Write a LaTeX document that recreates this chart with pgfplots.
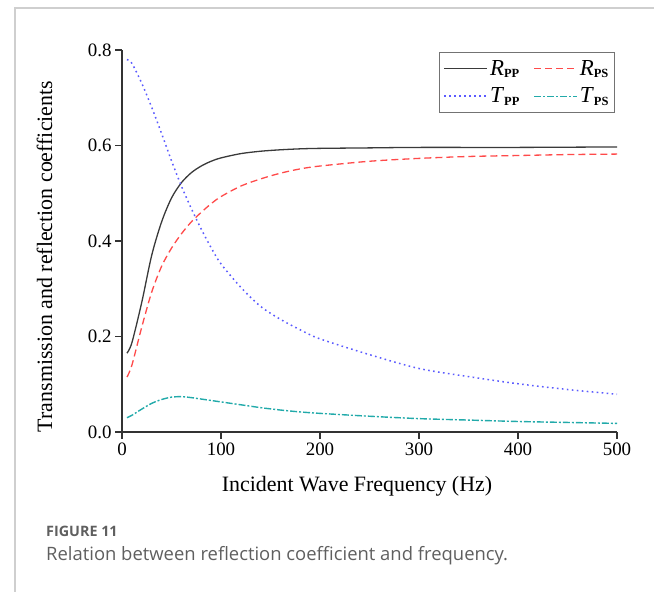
\documentclass[border=0pt]{standalone}
\usepackage{fontspec}
\setmainfont{Liberation Serif}
\newfontfamily\capfont{Open Sans}
\usepackage{pgfplots}
\pgfplotsset{compat=1.18}
\definecolor{cRpp}{HTML}{3A3A3A}
\definecolor{cRps}{HTML}{FF4A4A}
\definecolor{cTpp}{HTML}{5A5AFF}
\definecolor{cTps}{HTML}{22AAAA}
\definecolor{framegray}{HTML}{CFCFCF}
\definecolor{capgray}{HTML}{5F5F5F}
\newcommand{\sub}[1]{\raisebox{-0.2ex}{\fontsize{12.5}{12.5}\selectfont\bfseries #1}}
\begin{document}
\begin{tikzpicture}[x=1bp,y=1bp]
\useasboundingbox (0,0) rectangle (654,592);
\draw[framegray, line width=1.2bp] (15,0) -- (15,584) -- (654,584);
\begin{axis}[
  at={(122bp,160bp)}, anchor=south west,
  scale only axis, width=495bp, height=382bp,
  xmin=0, xmax=500, ymin=0, ymax=0.8,
  axis lines*=left, tick align=outside,
  major tick length=7bp,
  xtick={0,100,200,300,400,500},
  ytick={0,0.2,0.4,0.6,0.8},
  axis line style={line width=1.3bp, black!80},
  tick style={line width=1.3bp, black!80},
  /pgf/number format/assume math mode=true,
  ticklabel style={font=\fontsize{19}{19}\selectfont},
  yticklabel style={/pgf/number format/.cd, fixed, fixed zerofill, precision=1},
  legend columns=2,
  legend cell align=left,
  legend image code/.code={\draw[#1] (0bp,0bp) -- (43bp,0bp);},
  legend style={at={(rel axis cs:0.996,0.995)}, anchor=north east,
    draw=black!55, line width=1.2bp, fill=white,
    font=\fontsize{23}{23}\selectfont, inner xsep=4bp, inner ysep=6bp,
    row sep=7bp,
    /tikz/every even column/.append style={column sep=12bp}},
]
\addplot[draw=cRpp, line width=1.3bp, smooth, tension=0.5] coordinates {
(5,0.165) (10,0.187) (20,0.272) (30,0.37) (40,0.44) (50,0.49)
(60,0.522) (70,0.543) (80,0.557) (90,0.567) (100,0.574) (120,0.583) (140,0.588)
(160,0.591) (180,0.593) (200,0.594) (250,0.595) (300,0.596) (400,0.596) (500,0.597)};
\addlegendentry{\textit{R}\sub{PP}}
\addplot[draw=cRps, line width=1.3bp, dash pattern=on 7bp off 4bp, smooth, tension=0.5] coordinates {
(5,0.115) (10,0.14) (20,0.22) (30,0.293) (40,0.347) (50,0.385)
(60,0.415) (70,0.44) (80,0.46) (90,0.478) (100,0.493) (120,0.515) (140,0.53)
(160,0.542) (180,0.551) (200,0.557) (250,0.567) (300,0.573) (350,0.577) (400,0.579)
(450,0.581) (500,0.582)};
\addlegendentry{\textit{R}\sub{PS}}
\addplot[draw=cTpp, line width=1.5bp, dash pattern=on 1.6bp off 3.4bp, smooth, tension=0.5] coordinates {
(5,0.78) (10,0.772) (20,0.73) (30,0.68) (40,0.625) (50,0.568)
(60,0.515) (70,0.468) (80,0.425) (90,0.386) (100,0.352) (120,0.303) (140,0.263)
(160,0.236) (180,0.214) (200,0.195) (250,0.162) (300,0.133) (350,0.116) (400,0.101)
(450,0.089) (500,0.079)};
\addlegendentry{\textit{T}\sub{PP}}
\addplot[draw=cTps, line width=1.4bp, dash pattern=on 7bp off 2bp on 2bp off 2bp, smooth, tension=0.5] coordinates {
(5,0.03) (10,0.035) (20,0.048) (30,0.06) (40,0.068) (50,0.073) (60,0.074) (70,0.072)
(80,0.069) (100,0.063) (120,0.057) (140,0.051) (160,0.046) (180,0.042) (200,0.039)
(250,0.033) (300,0.028) (350,0.025) (400,0.022) (450,0.02) (500,0.018)};
\addlegendentry{\textit{T}\sub{PS}}
\end{axis}
\node[rotate=90, anchor=base, inner sep=0, font=\fontsize{22}{22}\selectfont] at (52,335.5) {Transmission and reflection coefficients};
\node[anchor=base, inner sep=0, font=\fontsize{22}{22}\selectfont] at (357,100) {Incident Wave Frequency (Hz)};
\node[anchor=base west, inner sep=0, text=capgray, font=\capfont\bfseries\fontsize{14.4}{14.4}\selectfont] at (46,55) {FIGURE 11};
\node[anchor=base west, inner sep=0, text=capgray, font=\capfont\fontsize{18.5}{18.5}\selectfont] at (46,31) {Relation between reflection coefficient and frequency.};
\end{tikzpicture}
\end{document}
